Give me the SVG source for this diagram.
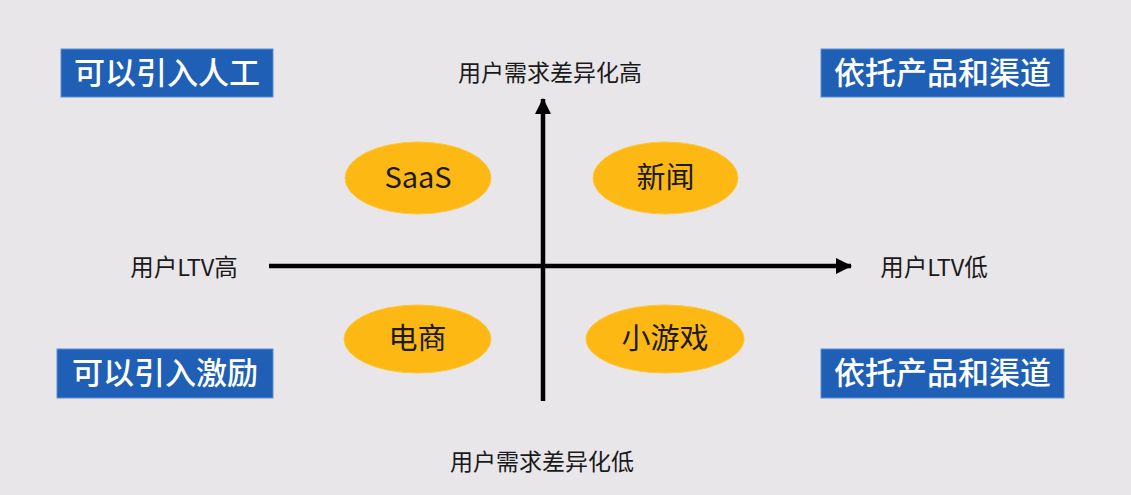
<svg xmlns="http://www.w3.org/2000/svg" width="1131" height="495" viewBox="0 0 1131 495">
<defs>
<style>
.box{fill:#1f5fb6;stroke:#5b8fd6;stroke-width:1}
.bt{fill:#ffffff;font-family:"Noto Sans CJK SC","Noto Sans",sans-serif;font-size:31px;font-weight:500;text-anchor:middle}
.ell{fill:#fdb813;stroke:#fdc63d;stroke-width:1}
.et{fill:#1a1a1a;font-family:"Noto Sans CJK SC","Noto Sans",sans-serif;font-size:29px;text-anchor:middle}
.lab{fill:#1a1a1a;font-family:"Noto Sans CJK SC","Noto Sans",sans-serif;font-size:23px;text-anchor:middle}
.lab2{fill:#1a1a1a;font-family:"Noto Sans CJK SC","Noto Sans",sans-serif;font-size:23.5px;text-anchor:middle}
.axis{stroke:#000;stroke-width:4.5;fill:none}
</style>
<marker id="ah" viewBox="0 0 16 16" refX="15" refY="8" markerWidth="16" markerHeight="16" markerUnits="userSpaceOnUse" orient="auto">
<path d="M0,0 L16,8 L0,16 Z" fill="#000"/>
</marker>
</defs>
<rect width="1131" height="495" fill="#e9e6ea"/>
<g id="connectors">
<line class="axis" x1="543" y1="401" x2="543" y2="99" marker-end="url(#ah)"/>
<line class="axis" x1="269" y1="266" x2="851" y2="266" marker-end="url(#ah)"/>
</g>
<g id="box-tl"><rect class="box" x="61" y="49" width="212" height="48"/><text class="bt" x="167" y="84">可以引入人工</text></g>
<g id="box-tr"><rect class="box" x="821" y="49" width="243" height="48"/><text class="bt" x="942.5" y="84">依托产品和渠道</text></g>
<g id="box-bl"><rect class="box" x="57" y="349" width="216" height="49"/><text class="bt" x="165" y="384">可以引入激励</text></g>
<g id="box-br"><rect class="box" x="821" y="349" width="243" height="49"/><text class="bt" x="942.5" y="384">依托产品和渠道</text></g>
<g id="saas"><ellipse class="ell" cx="418" cy="178" rx="73" ry="36"/><text class="et" x="418" y="188">SaaS</text></g>
<g id="news"><ellipse class="ell" cx="665.5" cy="178" rx="72.5" ry="36"/><text class="et" x="665.5" y="188">新闻</text></g>
<g id="ecom"><ellipse class="ell" cx="417.5" cy="339" rx="73.5" ry="34"/><text class="et" x="417.5" y="349">电商</text></g>
<g id="games"><ellipse class="ell" cx="665" cy="339" rx="79" ry="34"/><text class="et" x="665" y="349">小游戏</text></g>
<g id="labels">
<text class="lab" x="550" y="81">用户需求差异化高</text>
<text class="lab" x="542" y="470">用户需求差异化低</text>
<text class="lab2" x="184" y="276">用户LTV高</text>
<text class="lab2" x="934" y="276">用户LTV低</text>
</g>
</svg>
